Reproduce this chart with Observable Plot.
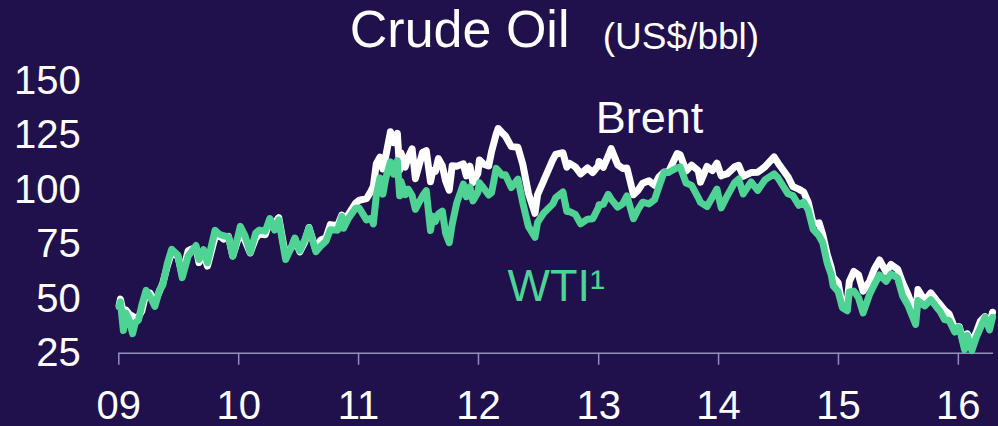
<!DOCTYPE html>
<html>
<head>
<meta charset="utf-8">
<script src="https://cdn.jsdelivr.net/npm/d3@7"></script>
<script src="https://cdn.jsdelivr.net/npm/@observablehq/plot@0.6"></script>
<style>
  html, body { margin: 0; padding: 0; background: #20104b; font-family: "Liberation Sans", Arial, sans-serif; }
  #chart svg { display: block; }
</style>
</head>
<body>
<div id="chart"></div>
<script>
// ---- data ----
const dates = [
  // 2009
  "2009-01-02","2009-01-06","2009-01-15","2009-01-22","2009-02-02","2009-02-12","2009-02-20","2009-03-02","2009-03-12","2009-03-25",
  "2009-04-06","2009-04-21","2009-05-05","2009-05-15","2009-05-29","2009-06-11","2009-06-30","2009-07-13","2009-07-31","2009-08-07",
  "2009-08-24","2009-09-02","2009-09-16","2009-09-28","2009-10-21","2009-11-03","2009-11-16","2009-12-01","2009-12-14","2009-12-31",
  // 2010
  "2010-01-06","2010-01-20","2010-02-05","2010-02-22","2010-03-05","2010-03-23","2010-04-06","2010-04-20","2010-05-03","2010-05-24",
  "2010-06-11","2010-06-21","2010-07-06","2010-07-21","2010-08-03","2010-08-24","2010-09-08","2010-09-24","2010-10-07","2010-10-29",
  "2010-11-11","2010-11-16","2010-12-01","2010-12-23",
  // 2011
  "2011-01-03","2011-01-25","2011-02-08","2011-02-15","2011-02-24","2011-03-07","2011-03-16","2011-03-25","2011-04-08","2011-04-18",
  "2011-04-29","2011-05-06","2011-05-10","2011-05-23","2011-06-01","2011-06-13","2011-06-23","2011-07-15","2011-07-26","2011-08-08",
  "2011-08-15","2011-08-23","2011-09-01","2011-09-13","2011-09-23","2011-10-04","2011-10-13","2011-10-27","2011-11-16","2011-11-25",
  "2011-12-06","2011-12-15","2011-12-30",
  // 2012
  "2012-01-04","2012-01-17","2012-02-01","2012-02-10","2012-02-24","2012-03-01","2012-03-13","2012-03-23","2012-04-10","2012-04-30",
  "2012-05-15","2012-06-01","2012-06-21","2012-06-29","2012-07-17","2012-08-14","2012-08-23","2012-09-14","2012-09-26","2012-10-05",
  "2012-10-22","2012-11-07","2012-11-28","2012-12-14","2012-12-31",
  // 2013
  "2013-01-02","2013-01-15","2013-01-30","2013-02-08","2013-02-28","2013-03-15","2013-03-28","2013-04-17","2013-05-01","2013-05-15",
  "2013-06-03","2013-06-20","2013-07-03","2013-07-19","2013-08-01","2013-08-28","2013-09-06","2013-09-24","2013-10-11","2013-10-31",
  "2013-11-07","2013-11-27","2013-12-13","2013-12-27",
  // 2014
  "2014-01-09","2014-01-28","2014-02-19","2014-03-03","2014-03-17","2014-04-10","2014-04-30","2014-05-22","2014-06-19","2014-07-01",
  "2014-07-31","2014-08-15","2014-09-02","2014-09-17","2014-10-01","2014-10-16","2014-11-03","2014-11-14","2014-11-28","2014-12-10",
  "2014-12-16","2014-12-31",
  // 2015
  "2015-01-13","2015-01-28","2015-02-03","2015-02-17","2015-03-03","2015-03-17","2015-04-06","2015-04-20","2015-05-06","2015-05-26",
  "2015-06-10","2015-06-30","2015-07-15","2015-07-31","2015-08-24","2015-08-31","2015-09-21","2015-10-09","2015-10-28","2015-11-06",
  "2015-11-20","2015-12-04","2015-12-21","2015-12-31",
  // 2016
  "2016-01-04","2016-01-20","2016-01-28","2016-02-11","2016-02-26","2016-03-08","2016-03-22","2016-04-05","2016-04-14"
];

const wti = [
  // 2009
  46.3, 48.6, 35.4, 43.5, 40.1, 34.0, 38.9, 40.2, 47.0, 53.8,
  51.0, 46.5, 54.0, 56.3, 66.3, 72.7, 69.9, 59.7, 69.5, 70.9,
  74.4, 68.0, 72.5, 66.5, 81.4, 79.6, 78.9, 78.4, 69.5, 79.4,
  // 2010
  83.2, 79.0, 71.2, 80.2, 81.5, 81.0, 86.8, 81.5, 86.2, 68.0,
  73.8, 77.8, 72.0, 77.0, 82.5, 71.6, 74.2, 76.5, 81.7, 81.4,
  87.8, 82.3, 86.8, 91.5,
  // 2011
  91.6, 86.2, 86.9, 84.3, 97.3, 105.4, 98.0, 105.4, 112.8, 107.1,
  113.4, 97.2, 103.9, 97.7, 100.3, 97.3, 91.0, 97.2, 99.6, 81.3,
  87.9, 85.4, 88.9, 90.2, 80.0, 75.7, 84.2, 94.0, 102.6, 96.8,
  101.3, 94.9, 98.8,
  // 2012
  103.2, 100.7, 97.6, 98.7, 109.8, 108.8, 106.7, 106.9, 101.0, 104.9,
  94.0, 83.2, 78.2, 85.0, 89.2, 93.4, 96.3, 99.0, 90.0, 89.9,
  88.7, 84.4, 86.5, 86.7, 91.8,
  // 2013
  93.1, 93.3, 97.9, 95.7, 92.0, 93.5, 97.2, 86.7, 91.0, 94.3,
  93.5, 95.4, 101.2, 108.0, 107.9, 110.1, 110.5, 103.1, 102.0, 96.4,
  94.2, 92.3, 96.6, 100.3,
  // 2014
  91.7, 97.4, 103.3, 104.9, 98.1, 103.6, 99.7, 104.5, 107.3, 105.4,
  98.2, 97.4, 92.9, 94.4, 90.7, 81.8, 78.8, 75.8, 66.2, 61.0,
  55.9, 53.3,
  // 2015
  45.9, 44.5, 53.1, 53.5, 50.5, 43.5, 52.1, 56.4, 60.9, 58.0,
  61.4, 59.5, 51.4, 47.1, 38.2, 49.2, 46.7, 49.6, 45.9, 44.3,
  40.4, 40.0, 34.7, 37.0,
  // 2016
  36.8, 26.6, 33.2, 26.2, 32.8, 36.5, 41.5, 35.7, 41.5
];

const brent = [
  // 2009
  46.9, 49.8, 43.5, 44.9, 42.9, 42.0, 41.3, 41.6, 44.3, 52.8,
  52.6, 48.5, 53.5, 57.1, 65.2, 71.3, 69.3, 61.0, 72.0, 72.6,
  73.5, 66.6, 70.5, 65.0, 78.2, 79.0, 77.3, 78.6, 69.6, 77.9,
  // 2010
  81.0, 76.8, 71.0, 77.8, 79.7, 79.4, 86.0, 84.5, 87.2, 69.6,
  73.6, 77.5, 71.5, 76.0, 82.7, 72.4, 77.0, 78.0, 84.0, 83.6,
  88.4, 84.9, 88.7, 93.8,
  // 2011
  95.2, 95.9, 99.4, 101.6, 112.0, 115.0, 109.5, 115.6, 126.6, 121.6,
  125.9, 109.1, 117.0, 110.4, 115.0, 118.8, 105.1, 117.2, 118.0, 103.7,
  108.8, 108.4, 114.3, 111.0, 104.0, 99.8, 111.0, 110.8, 111.9, 106.4,
  110.8, 103.3, 107.4,
  // 2012
  113.7, 111.7, 110.9, 117.6, 125.5, 128.1, 126.2, 124.7, 119.8, 119.5,
  111.7, 98.4, 89.2, 97.8, 104.0, 113.7, 116.2, 117.0, 110.4, 112.1,
  110.5, 107.3, 110.0, 107.9, 111.1,
  // 2013
  113.0, 110.3, 115.6, 118.9, 111.4, 109.8, 110.0, 97.7, 99.8, 103.0,
  104.1, 102.0, 105.8, 108.1, 108.0, 116.6, 116.1, 108.6, 111.3, 108.8,
  103.5, 110.7, 108.8, 112.2,
  // 2014
  106.4, 107.4, 110.5, 111.2, 106.2, 107.9, 108.0, 110.5, 115.1, 112.3,
  106.0, 101.5, 100.3, 99.0, 94.2, 84.4, 84.8, 79.4, 70.2, 64.2,
  59.9, 57.3,
  // 2015
  46.6, 48.5, 57.9, 62.5, 61.0, 53.5, 58.1, 63.5, 67.8, 62.3,
  65.7, 63.6, 57.5, 52.2, 42.7, 54.2, 49.0, 52.7, 49.0, 47.4,
  44.7, 43.0, 36.4, 37.3,
  // 2016
  37.2, 27.9, 33.9, 30.1, 35.1, 39.7, 41.8, 37.9, 43.8
];

const yearTicks = ["2009-01-01","2010-01-01","2011-01-01","2012-01-01","2013-01-01","2014-01-01","2015-01-01","2016-01-01"];
const yTicks = [25, 50, 75, 100, 125, 150];
const xDomain = ["2009-01-01", "2016-04-17"];
const titleText = "Crude Oil";
const unitText = "(US$/bbl)";
const brentLabel = "Brent";
const wtiLabel = "WTI\u00B9";

// ---- styling ----
const BG = "#20104b";
const GREEN = "#4fd394";
const WHITE = "#ffffff";
const AXIS = "#958ebe";
const FONT = "'Liberation Sans', Arial, sans-serif";

const parse = d3.utcParse("%Y-%m-%d");
const rows = dates.map((d, i) => ({date: parse(d), wti: wti[i], brent: brent[i]}));

const chart = Plot.plot({
  width: 998,
  height: 426,
  marginLeft: 118.3,
  marginRight: 5,
  marginTop: 80.3,
  marginBottom: 73.3,
  style: {background: BG, color: WHITE, fontFamily: FONT},
  x: {type: "utc", domain: xDomain.map(parse)},
  y: {domain: [25, 150]},
  marks: [
    Plot.ruleY([25], {stroke: AXIS, strokeWidth: 1.5}),
    Plot.axisX({
      ticks: yearTicks.map(parse),
      tickFormat: d3.utcFormat("%y"),
      tickSize: 12, tickPadding: 25, fontSize: 40,
      stroke: AXIS, strokeWidth: 1.5, fill: WHITE, label: null
    }),
    Plot.axisY({
      ticks: yTicks, tickSize: 0, tickPadding: 38, fontSize: 40,
      fill: WHITE, label: null
    }),
    Plot.lineY(rows, {x: "date", y: "brent", stroke: WHITE, strokeWidth: 7, strokeLinejoin: "round", strokeLinecap: "round"}),
    Plot.lineY(rows, {x: "date", y: "wti", stroke: GREEN, strokeWidth: 7, strokeLinejoin: "round", strokeLinecap: "round"}),
    Plot.text([titleText], {text: d => d, frameAnchor: "top-left", textAnchor: "start", lineAnchor: "bottom", dx: 231, dy: -33.6, fontSize: 52, fill: WHITE}),
    Plot.text([unitText], {text: d => d, frameAnchor: "top-left", textAnchor: "start", lineAnchor: "bottom", dx: 484, dy: -32, fontSize: 37, fill: WHITE}),
    Plot.text([brentLabel], {text: d => d, frameAnchor: "top-left", textAnchor: "start", lineAnchor: "bottom", dx: 477, dy: 52.5, fontSize: 45, fill: WHITE}),
    Plot.text([wtiLabel], {text: d => d, frameAnchor: "top-left", textAnchor: "start", lineAnchor: "bottom", dx: 388.7, dy: 220.5, fontSize: 45, fill: GREEN})
  ]
});
document.getElementById("chart").append(chart);
</script>
</body>
</html>
